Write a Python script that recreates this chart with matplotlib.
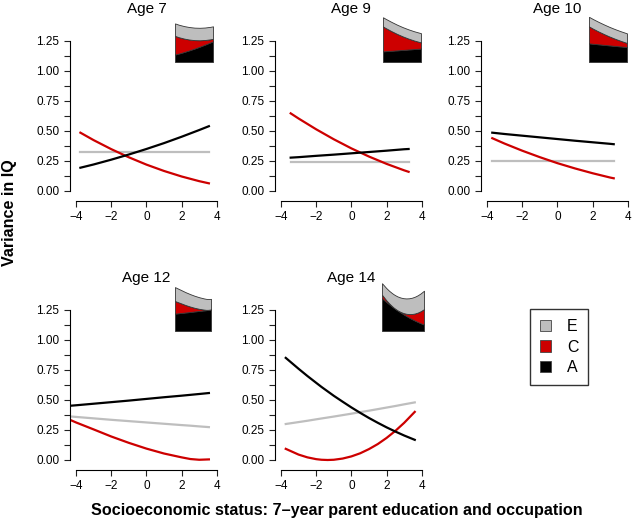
import matplotlib
matplotlib.use("Agg")
import matplotlib.pyplot as plt
from matplotlib.patches import Patch

plt.rcParams["font.family"] = ["Liberation Sans", "DejaVu Sans"]

W, H = 634, 524

# ---- data (variance components vs SES) ----
titles = ["Age 7", "Age 9", "Age 10", "Age 12", "Age 14"]

ses_7 = [-3.75, -3, -2, -1, 0, 1, 2, 3, 3.55]
a_7 = [0.194, 0.221, 0.261, 0.304, 0.350, 0.399, 0.452, 0.508, 0.540]
c_7 = [0.486, 0.424, 0.349, 0.281, 0.220, 0.167, 0.121, 0.082, 0.064]
e_7 = [0.325, 0.325, 0.325, 0.325, 0.325, 0.325, 0.325, 0.325, 0.325]

ses_9 = [-3.45, -3, -2, -1, 0, 1, 2, 3, 3.25]
a_9 = [0.278, 0.282, 0.293, 0.303, 0.314, 0.325, 0.336, 0.348, 0.350]
c_9 = [0.647, 0.604, 0.514, 0.431, 0.355, 0.287, 0.226, 0.172, 0.160]
e_9 = [0.240, 0.240, 0.240, 0.240, 0.240, 0.240, 0.240, 0.240, 0.240]

ses_10 = [-3.7, -3, -2, -1, 0, 1, 2, 3, 3.2]
a_10 = [0.486, 0.475, 0.461, 0.447, 0.433, 0.419, 0.406, 0.393, 0.390]
c_10 = [0.440, 0.395, 0.336, 0.282, 0.232, 0.188, 0.148, 0.112, 0.106]
e_10 = [0.250, 0.250, 0.250, 0.250, 0.250, 0.250, 0.250, 0.250, 0.250]

ses_12 = [-4.25, -4, -3, -2, -1, 0, 1, 2, 2.5, 3, 3.55]
a_12 = [0.453, 0.456, 0.469, 0.482, 0.495, 0.509, 0.523, 0.536, 0.543, 0.550, 0.558]
c_12 = [0.329, 0.313, 0.255, 0.196, 0.143, 0.095, 0.054, 0.022, 0.008, 0.002, 0.005]
e_12 = [0.362, 0.359, 0.347, 0.335, 0.324, 0.313, 0.302, 0.291, 0.286, 0.280, 0.274]

ses_14 = [-3.73, -3, -2.5, -2, -1.7, -1.35, -1, -0.5, 0, 0.5, 1, 1.5, 2, 2.5, 3, 3.6]
a_14 = [0.851, 0.760, 0.700, 0.643, 0.609, 0.572, 0.535, 0.486, 0.438, 0.393,
        0.350, 0.310, 0.272, 0.237, 0.204, 0.168]
c_14 = [0.093, 0.045, 0.022, 0.007, 0.002, 0.000, 0.002, 0.012, 0.030, 0.056,
        0.091, 0.133, 0.184, 0.243, 0.310, 0.401]
e_14 = [0.300, 0.316, 0.327, 0.339, 0.346, 0.354, 0.362, 0.374, 0.386, 0.399,
        0.411, 0.424, 0.437, 0.450, 0.464, 0.480]

panels = [
    (ses_7, a_7, c_7, e_7),
    (ses_9, a_9, c_9, e_9),
    (ses_10, a_10, c_10, e_10),
    (ses_12, a_12, c_12, e_12),
    (ses_14, a_14, c_14, e_14),
]

x_ticks = [-4, -2, 0, 2, 4]
y_ticks = [0.0, 0.25, 0.5, 0.75, 1.0, 1.25]
y_minor = [0.125, 0.375, 0.625, 0.875, 1.125]

col_a, col_c, col_e = "black", "#CD0000", "#BEBEBE"

# pixel anchors: x of SES=-4 and y of variance=0, for each panel
x0_px = [76, 281, 487, 76, 281]
y0_px = [191, 191, 191, 460, 460]
inset_px = [(175, 14, 38, 48), (383, 14, 38, 48), (589, 14, 38, 48),
            (175, 283, 36, 48), (382, 283, 42, 48)]
title_y = [9, 9, 9, 278, 278]
xs_px, ys_px = 17.6, 120.0

fig = plt.figure(figsize=(W / 100, H / 100), dpi=100)

for i, (ses, a, c, e) in enumerate(panels):
    left = x0_px[i] - 0.32 * xs_px
    width = 8.64 * xs_px
    bottom = y0_px[i] + 0.05 * ys_px
    height = 1.35 * ys_px
    ax = fig.add_axes([left / W, 1 - bottom / H, width / W, height / H])
    ax.plot(ses, e, color=col_e, lw=1.6)
    ax.plot(ses, c, color=col_c, lw=1.6)
    ax.plot(ses, a, color=col_a, lw=1.6)
    ax.set_xlim(-4.32, 4.32)
    ax.set_ylim(-0.05, 1.30)
    for s in ["top", "right"]:
        ax.spines[s].set_visible(False)
    ax.spines["left"].set_bounds(0, 1.25)
    ax.spines["bottom"].set_bounds(-4, 4)
    ax.spines["bottom"].set_position(("outward", 3))
    ax.set_xticks(x_ticks)
    ax.set_xticklabels([f"{t}".replace("-", "\u2212") for t in x_ticks])
    ax.set_yticks(y_ticks)
    ax.set_yticklabels([f"{t:.2f}" for t in y_ticks])
    ax.set_yticks(y_minor, minor=True)
    ax.tick_params(which="both", direction="out", length=4.5, width=0.8,
                   labelsize=8.5, pad=2.5, color="#222222")
    ax.tick_params(axis="y", pad=3.5)
    ax.patch.set_alpha(0)
    fig.text((x0_px[i] + 4 * xs_px) / W, 1 - title_y[i] / H, titles[i],
             ha="center", va="center", fontsize=11)

    # small stacked-area inset
    ix, iy, iw, ih = inset_px[i]
    ins = fig.add_axes([ix / W, 1 - (iy + ih) / H, iw / W, ih / H])
    ins.stackplot(ses, a, c, e, colors=[col_a, col_c, col_e],
                  edgecolor="#333333", linewidth=0.6)
    ins.set_xlim(ses[0], ses[-1])
    ins.set_ylim(0, 1.25)
    ins.axis("off")

handles = [Patch(facecolor=col_e, edgecolor="#444444", lw=0.6),
           Patch(facecolor=col_c, edgecolor="#444444", lw=0.6),
           Patch(facecolor=col_a, edgecolor="#444444", lw=0.6)]
leg = fig.legend(handles, ["E", "C", "A"], loc="upper left",
                 bbox_to_anchor=(530 / W, 1 - 309 / H), fontsize=11.5,
                 frameon=True, fancybox=False, edgecolor="black",
                 handlelength=0.7, handleheight=0.7, handletextpad=1.0,
                 labelspacing=0.36, borderpad=0.62, borderaxespad=0)
leg.get_frame().set_linewidth(1.0)

fig.text(10 / W, 1 - 213 / H, "Variance in IQ", rotation=90,
         ha="center", va="center", fontsize=11.6, fontweight="bold")
fig.text(337 / W, 1 - 510 / H,
         "Socioeconomic status: 7\u2013year parent education and occupation",
         ha="center", va="center", fontsize=11.6, fontweight="bold")

fig.savefig("out.png", dpi=100)
